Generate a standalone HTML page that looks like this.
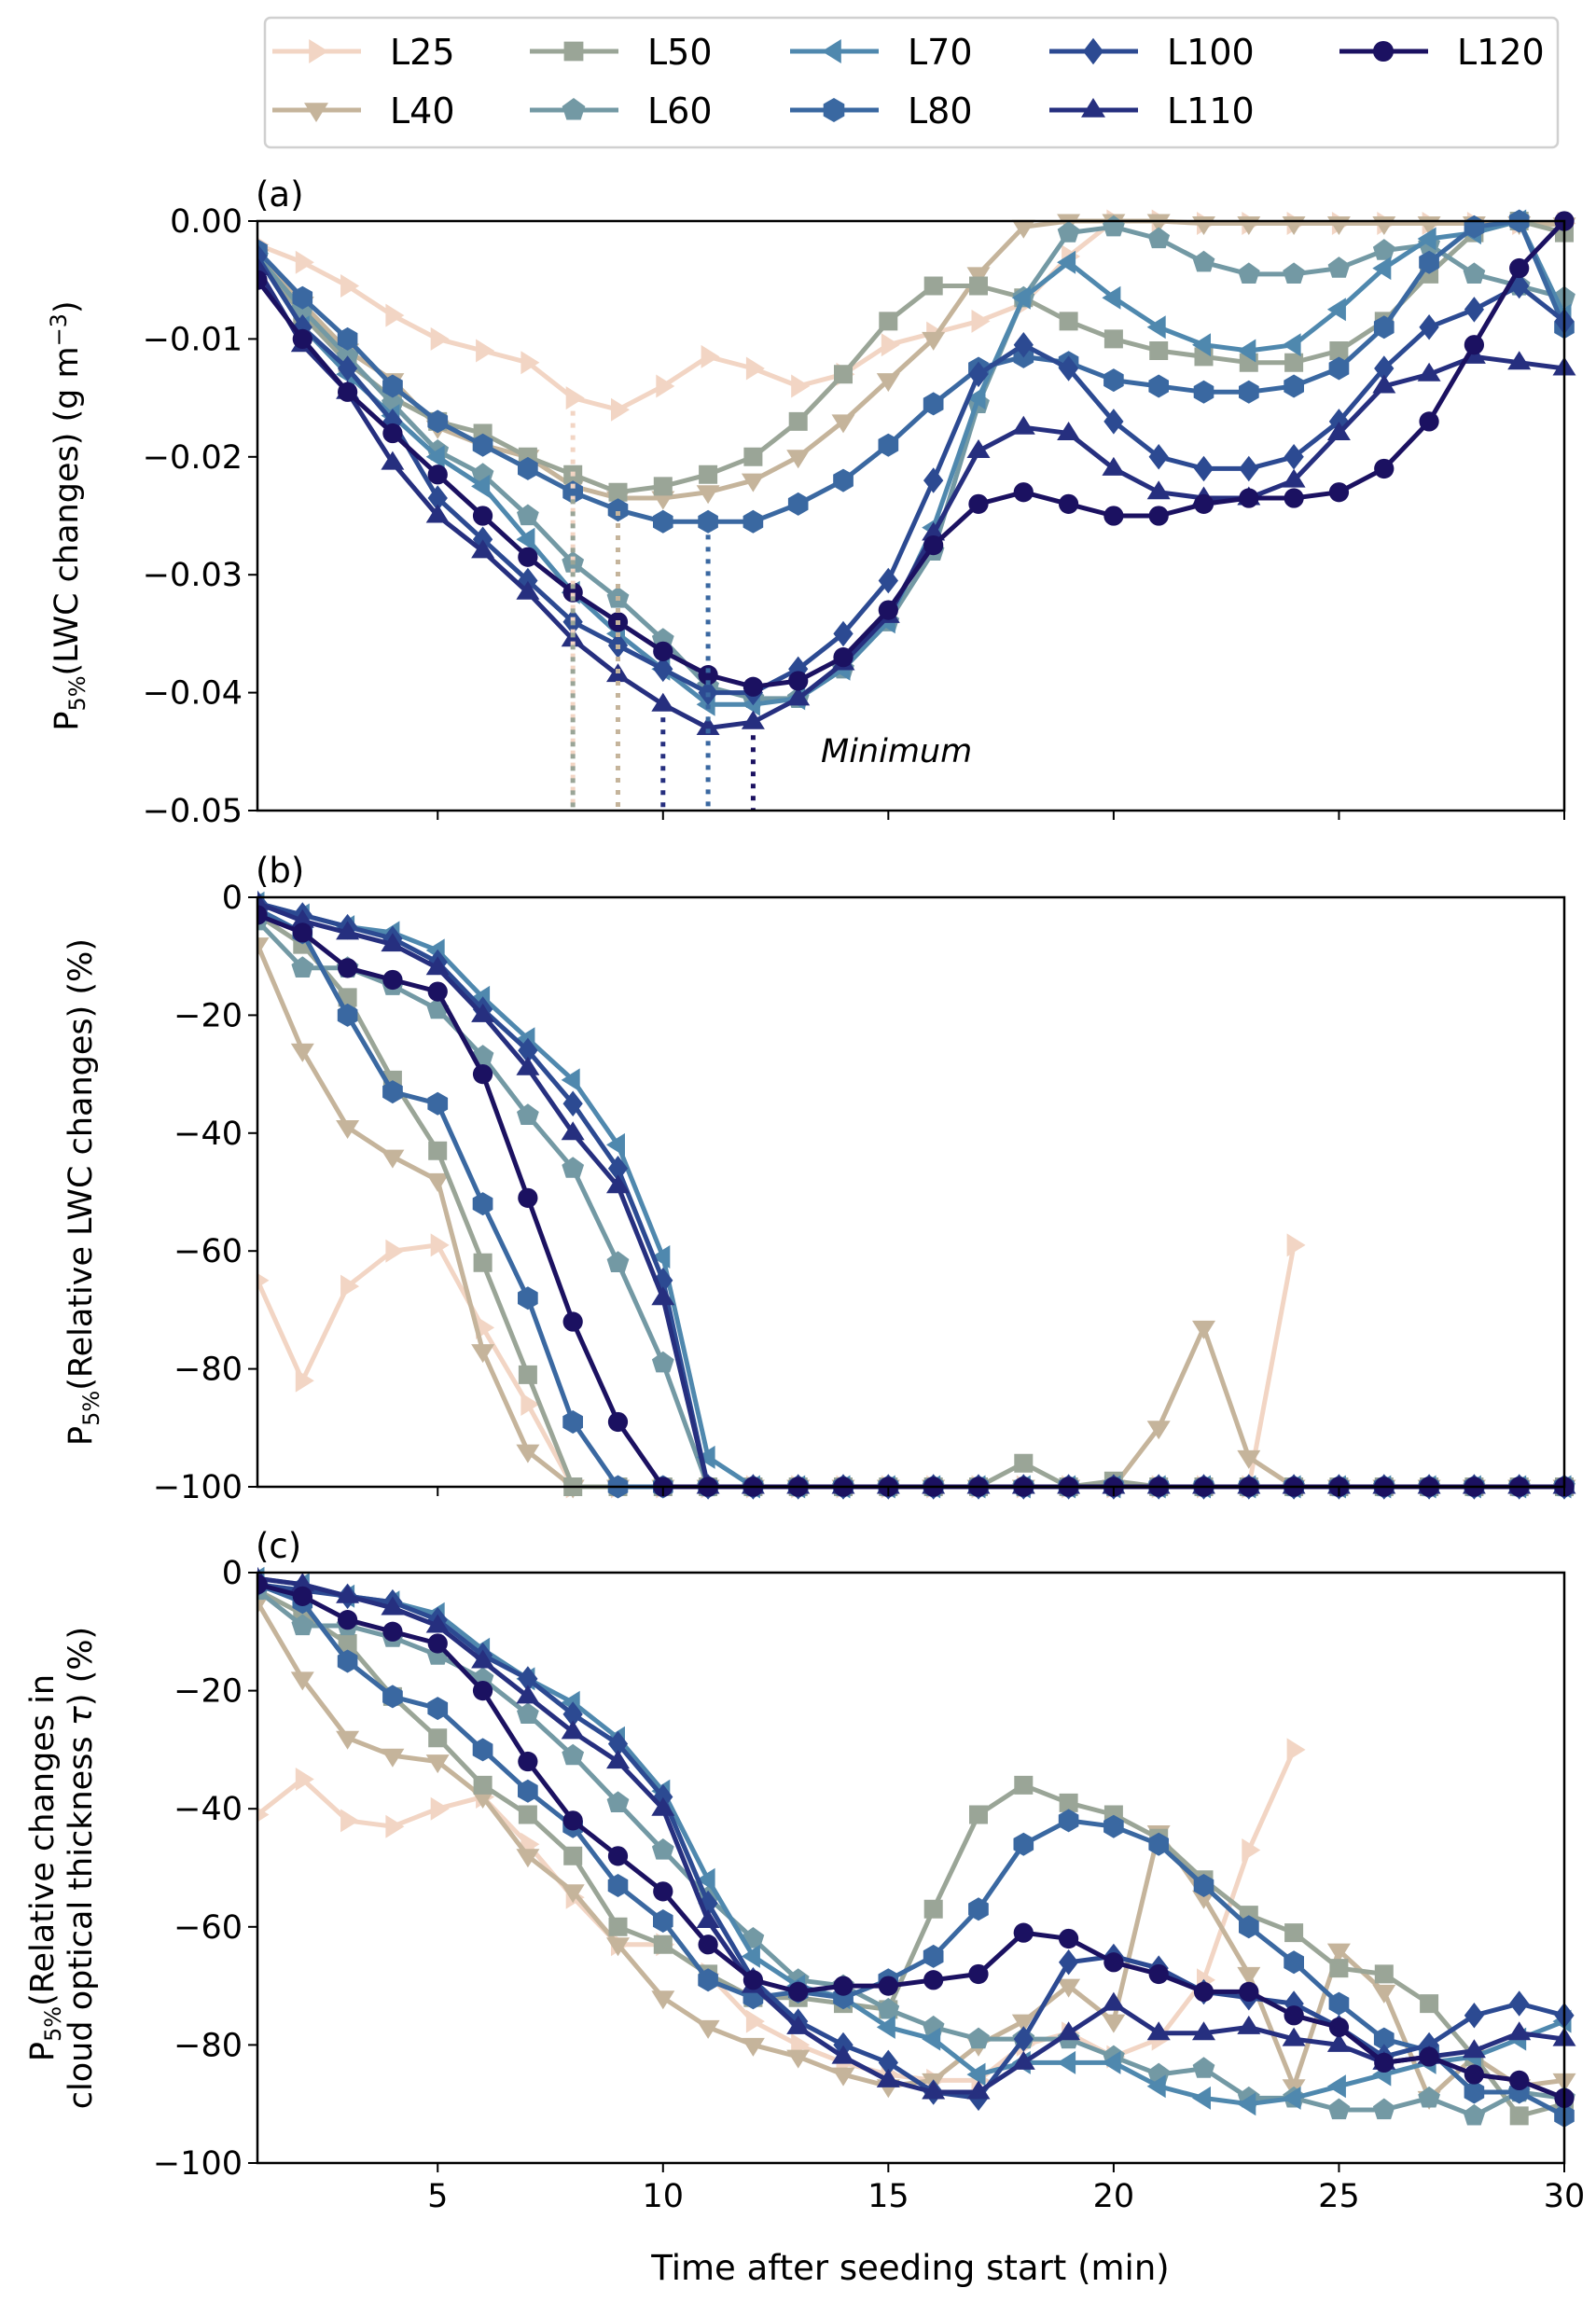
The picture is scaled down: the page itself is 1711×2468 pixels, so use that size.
<!DOCTYPE html>
<html><head><meta charset="utf-8"><style>
html,body{margin:0;padding:0;background:#fff}
svg text{font-family:"DejaVu Sans","Liberation Sans",sans-serif;fill:#000}
</style></head><body>
<svg id="fig" width="1711" height="2463" viewBox="0 0 1711 2463" xmlns="http://www.w3.org/2000/svg"></svg>
<script>
const times = Array.from({length:30},(_,i)=>i+1);
const seriesNames = ["L25","L40","L50","L60","L70","L80","L100","L110","L120"];
const seriesColors = ["#f2d5c4","#c5b49b","#9aa597","#7399a4","#4f88ae","#3a68a1","#2c4a92","#262f7f","#1b1161"];
const seriesMarkers = [">","v","s","p","<","h","D","^","o"];
const N = null;
// Panel (a) values: P5%(LWC changes) g m^-3
const a_L25 = [-0.002,-0.0035,-0.0055,-0.008,-0.010,-0.011,-0.012,-0.015,-0.016,-0.014,-0.0115,-0.0125,-0.014,-0.013,-0.0105,-0.0095,-0.0085,-0.007,-0.003,0,0,-0.0002,-0.0002,-0.0002,-0.0002,-0.0002,-0.0002,-0.0002,-0.0002,-0.0002];
const a_L40 = [-0.003,-0.007,-0.011,-0.0135,-0.0175,-0.019,-0.020,-0.0225,-0.0235,-0.0235,-0.023,-0.022,-0.020,-0.017,-0.0135,-0.010,-0.0045,-0.0005,0,0,0,-0.0002,-0.0002,-0.0002,-0.0002,-0.0002,-0.0002,-0.0002,-0.0002,-0.0003];
const a_L50 = [-0.003,-0.008,-0.012,-0.015,-0.017,-0.018,-0.020,-0.0215,-0.023,-0.0225,-0.0215,-0.020,-0.017,-0.013,-0.0085,-0.0055,-0.0055,-0.0065,-0.0085,-0.010,-0.011,-0.0115,-0.012,-0.012,-0.011,-0.0085,-0.0045,-0.001,0,-0.001];
const a_L60 = [-0.003,-0.0075,-0.0115,-0.0155,-0.0195,-0.0215,-0.025,-0.029,-0.032,-0.0355,-0.0395,-0.0405,-0.0405,-0.038,-0.034,-0.028,-0.0155,-0.0065,-0.001,-0.0005,-0.0015,-0.0035,-0.0045,-0.0045,-0.004,-0.0025,-0.002,-0.0045,-0.0055,-0.0065];
const a_L70 = [-0.003,-0.009,-0.013,-0.0165,-0.020,-0.0225,-0.027,-0.0315,-0.035,-0.038,-0.041,-0.041,-0.0405,-0.038,-0.034,-0.026,-0.015,-0.0065,-0.0035,-0.0065,-0.009,-0.0105,-0.011,-0.0105,-0.0075,-0.004,-0.0015,-0.001,0,-0.008];
const a_L80 = [-0.0025,-0.0065,-0.010,-0.014,-0.017,-0.019,-0.021,-0.023,-0.0245,-0.0255,-0.0255,-0.0255,-0.024,-0.022,-0.019,-0.0155,-0.0125,-0.0115,-0.012,-0.0135,-0.014,-0.0145,-0.0145,-0.014,-0.0125,-0.009,-0.0035,-0.0005,0,-0.009];
const a_L100 = [-0.003,-0.009,-0.0125,-0.017,-0.0235,-0.027,-0.0305,-0.034,-0.036,-0.038,-0.040,-0.040,-0.038,-0.035,-0.0305,-0.022,-0.013,-0.0105,-0.0125,-0.017,-0.020,-0.021,-0.021,-0.020,-0.017,-0.0125,-0.009,-0.0075,-0.0055,-0.0085];
const a_L110 = [-0.004,-0.0105,-0.0145,-0.0205,-0.025,-0.028,-0.0315,-0.0355,-0.0385,-0.041,-0.043,-0.0425,-0.0405,-0.0375,-0.0335,-0.0265,-0.0195,-0.0175,-0.018,-0.021,-0.023,-0.0235,-0.0235,-0.022,-0.018,-0.014,-0.013,-0.0115,-0.012,-0.0125];
const a_L120 = [-0.005,-0.010,-0.0145,-0.018,-0.0215,-0.025,-0.0285,-0.0315,-0.034,-0.0365,-0.0385,-0.0395,-0.039,-0.037,-0.033,-0.0275,-0.024,-0.023,-0.024,-0.025,-0.025,-0.024,-0.0235,-0.0235,-0.023,-0.021,-0.017,-0.0105,-0.004,0];
// Panel (b) values: relative LWC changes %
const b_L25 = [-65,-82,-66,-60,-59,-73,-86,-100,-100,-100,-100,-100,-100,-100,-100,-100,-100,-100,-100,-100,-100,-100,-100,-59,N,N,N,N,N,N];
const b_L40 = [-8,-26,-39,-44,-48,-77,-94,-100,-100,-100,-100,-100,-100,-100,-100,-100,-100,-100,-100,-100,-90,-73,-95,-100,-100,-100,-100,-100,-100,-100];
const b_L50 = [-3,-8,-17,-31,-43,-62,-81,-100,-100,-100,-100,-100,-100,-100,-100,-100,-100,-96,-100,-99,-100,-100,-100,-100,-100,-100,-100,-100,-100,-100];
const b_L60 = [-4,-12,-12,-15,-19,-27,-37,-46,-62,-79,-100,-100,-100,-100,-100,-100,-100,-100,-100,-100,-100,-100,-100,-100,-100,-100,-100,-100,-100,-100];
const b_L70 = [-1,-3,-5,-6,-9,-17,-24,-31,-42,-61,-95,-100,-100,-100,-100,-100,-100,-100,-100,-100,-100,-100,-100,-100,-100,-100,-100,-100,-100,-100];
const b_L80 = [-2,-6,-20,-33,-35,-52,-68,-89,-100,-100,-100,-100,-100,-100,-100,-100,-100,-100,-100,-100,-100,-100,-100,-100,-100,-100,-100,-100,-100,-100];
const b_L100 = [-1,-3,-5,-7,-11,-19,-26,-35,-46,-65,-100,-100,-100,-100,-100,-100,-100,-100,-100,-100,-100,-100,-100,-100,-100,-100,-100,-100,-100,-100];
const b_L110 = [-1,-4,-6,-8,-12,-20,-29,-40,-49,-68,-100,-100,-100,-100,-100,-100,-100,-100,-100,-100,-100,-100,-100,-100,-100,-100,-100,-100,-100,-100];
const b_L120 = [-3,-6,-12,-14,-16,-30,-51,-72,-89,-100,-100,-100,-100,-100,-100,-100,-100,-100,-100,-100,-100,-100,-100,-100,-100,-100,-100,-100,-100,-100];
// Panel (c) values: relative changes in cloud optical thickness %
const c_L25 = [-41,-35,-42,-43,-40,-38,-46,-55,-63,-63,-68,-76,-80,-83,-85,-86,-86,-80,-78,-82,-79,-69,-47,-30,N,N,N,N,N,N];
const c_L40 = [-5,-18,-28,-31,-32,-38,-48,-54,-63,-72,-77,-80,-82,-85,-87,-86,-80,-76,-70,-76,-44,-55,-68,-87,-64,-71,-89,-82,-87,-86];
const c_L50 = [-3,-7,-12,-21,-28,-36,-41,-48,-60,-63,-68,-72,-72,-73,-74,-57,-41,-36,-39,-41,-45,-52,-58,-61,-67,-68,-73,-82,-92,-90];
const c_L60 = [-3,-9,-9,-11,-14,-18,-24,-31,-39,-47,-55,-62,-69,-70,-74,-77,-79,-79,-79,-82,-85,-84,-89,-89,-91,-91,-89,-92,-88,-89];
const c_L70 = [-1,-2,-4,-5,-7,-13,-18,-22,-28,-37,-52,-65,-70,-72,-77,-79,-85,-83,-83,-83,-87,-89,-90,-89,-87,-85,-83,-82,-79,-76];
const c_L80 = [-2,-5,-15,-21,-23,-30,-37,-43,-53,-59,-69,-72,-71,-72,-69,-65,-57,-46,-42,-43,-46,-53,-60,-66,-73,-79,-81,-88,-88,-92];
const c_L100 = [-2,-3,-4,-5,-8,-14,-18,-24,-29,-38,-56,-69,-76,-80,-83,-88,-89,-79,-66,-65,-67,-71,-72,-73,-77,-82,-80,-75,-73,-75];
const c_L110 = [-1,-2,-4,-6,-9,-15,-21,-27,-32,-40,-59,-70,-77,-82,-86,-88,-88,-83,-78,-73,-78,-78,-77,-79,-80,-83,-82,-81,-78,-79];
const c_L120 = [-2,-4,-8,-10,-12,-20,-32,-42,-48,-54,-63,-69,-71,-70,-70,-69,-68,-61,-62,-66,-68,-71,-71,-75,-77,-83,-82,-85,-86,-89];
const aTicks = [0,-0.01,-0.02,-0.03,-0.04,-0.05];
const aTickLabels = ["0.00","\u22120.01","\u22120.02","\u22120.03","\u22120.04","\u22120.05"];
const bcTicks = [0,-20,-40,-60,-80,-100];
const bcTickLabels = ["0","\u221220","\u221240","\u221260","\u221280","\u2212100"];
const xTicks = [5,10,15,20,25,30];
// minimum markers (series index, time, value)
const minSeries = [0,2,1,7,5,8];
const minTimes = [8,8,9,10,11,12];
const minValues = [-0.015,-0.0225,-0.0235,-0.041,-0.0255,-0.0425];

const svg = document.getElementById('fig');
const NS = "http://www.w3.org/2000/svg";
function mk(tag, attrs, parent){const e=document.createElementNS(NS,tag);for(const k in attrs)e.setAttribute(k,attrs[k]);(parent||svg).appendChild(e);return e;}
const XL=276, XR=1677;
function xs(t){return XL+(t-1)/(30-1)*(XR-XL);}
function makeY(top,bot,ymax,ymin){return v=>top+(ymax-v)/(ymax-ymin)*(bot-top);}

function markerPath(m,x,y,r){
  const pts=(arr)=>arr.map(p=>(x+p[0]).toFixed(1)+','+(y+p[1]).toFixed(1)).join(' ');
  switch(m){
    case '>': return ['polygon',{points:pts([[r,0],[-r*0.6,-r],[-r*0.6,r]])}];
    case '<': return ['polygon',{points:pts([[-r,0],[r*0.6,-r],[r*0.6,r]])}];
    case 'v': return ['polygon',{points:pts([[0,r],[-r,-r*0.6],[r,-r*0.6]])}];
    case '^': return ['polygon',{points:pts([[0,-r],[-r,r*0.6],[r,r*0.6]])}];
    case 's': return ['polygon',{points:pts([[-r*0.8,-r*0.8],[r*0.8,-r*0.8],[r*0.8,r*0.8],[-r*0.8,r*0.8]])}];
    case 'D': return ['polygon',{points:pts([[0,-r*1.1],[r*0.85,0],[0,r*1.1],[-r*0.85,0]])}];
    case 'p': {const a=[];for(let i=0;i<5;i++){const t=-Math.PI/2+i*2*Math.PI/5;a.push([r*Math.cos(t),r*Math.sin(t)]);}return ['polygon',{points:pts(a)}];}
    case 'h': {const a=[];for(let i=0;i<6;i++){const t=-Math.PI/2+i*Math.PI/3;a.push([r*Math.cos(t),r*Math.sin(t)]);}return ['polygon',{points:pts(a)}];}
    default: return ['circle',{cx:x,cy:y,r:r*0.85}];
  }
}

function panel(id,top,bot,ymax,ymin,data,ticks,tickLabels,showX,title){
  const g=mk('g',{});
  
  
  const ys=makeY(top,bot,ymax,ymin);
  const clip=mk('clipPath',{id:'clip'+id},g);
  mk('rect',{x:XL,y:top-14,width:XR-XL+14,height:bot-top+28},clip);
  const plot=mk('g',{'clip-path':'url(#clip'+id+')'},g);
  data.forEach((vals,si)=>{
    const sg=mk('g',{},plot);
    
    
    let d='',pen=false;
    vals.forEach((v,i)=>{ if(v===null){pen=false;return;} d+=(pen?'L':'M')+xs(times[i]).toFixed(1)+','+ys(v).toFixed(1); pen=true;});
    mk('path',{d:d,fill:'none',stroke:seriesColors[si],'stroke-width':5,'stroke-linejoin':'round'},sg);
    vals.forEach((v,i)=>{ if(v===null)return; const [tag,at]=markerPath(seriesMarkers[si],xs(times[i]),ys(v),12.5); at.fill=seriesColors[si]; const mEl=mk(tag,at,sg);
      
      
    });
  });
  if(id==='a'){
    minSeries.forEach((si,k)=>{
      const ln=mk('line',{x1:xs(minTimes[k]),x2:xs(minTimes[k]),y1:ys(minValues[k])+14,y2:bot,stroke:seriesColors[si],'stroke-width':5,'stroke-dasharray':'5,8'},g);
      
      
    });
    const mt=mk('text',{x:880,y:817,'font-size':35,'font-style':'italic'},g);
    mt.textContent='Minimum';
    
    
  }
  const fr=mk('rect',{x:XL,y:top,width:XR-XL,height:bot-top,fill:'none',stroke:'#000','stroke-width':2.5},g);
  
  
  ticks.forEach((t,i)=>{
    const y=ys(t);
    mk('line',{x1:XL-10,x2:XL,y1:y,y2:y,stroke:'#000','stroke-width':2},g);
    const tx=mk('text',{x:XL-16,y:y+12,'font-size':35,'text-anchor':'end'},g);
    tx.textContent=tickLabels[i];
    
    
  });
  xTicks.forEach(t=>{
    const x=xs(t);
    mk('line',{x1:x,x2:x,y1:bot,y2:bot+10,stroke:'#000','stroke-width':2},g);
    if(showX){const tx=mk('text',{x:x,y:bot+47,'font-size':35,'text-anchor':'middle'},g);tx.textContent=t;
      
      }
  });
  const pt=mk('text',{x:274,y:top-16,'font-size':37},g);
  pt.textContent='('+id+')';
  
  
  title.forEach((ln,i)=>{
    const yc=(top+bot)/2; const xc=ln.x;
    const tx=mk('text',{x:xc,y:yc,'font-size':35,'text-anchor':'middle',transform:'rotate(-90 '+xc+' '+yc+')'},g);
    tx.innerHTML=ln.html;
    
    
  });
}
const P='P<tspan font-size="24" dy="8">5%</tspan><tspan dy="-8">';
panel('a',237,869,0,-0.05,[a_L25,a_L40,a_L50,a_L60,a_L70,a_L80,a_L100,a_L110,a_L120],aTicks,aTickLabels,false,[{x:83,html:P+'(LWC changes) (g m</tspan><tspan font-size="24" dy="-12">\u22123</tspan><tspan dy="12">)</tspan>'}]);
panel('b',962,1594,0,-100,[b_L25,b_L40,b_L50,b_L60,b_L70,b_L80,b_L100,b_L110,b_L120],bcTicks,bcTickLabels,false,[{x:98,html:P+'(Relative LWC changes) (%)</tspan>'}]);
panel('c',1686,2319,0,-100,[c_L25,c_L40,c_L50,c_L60,c_L70,c_L80,c_L100,c_L110,c_L120],bcTicks,bcTickLabels,true,[{x:57,html:P+'(Relative changes in</tspan>'},{x:98,html:'cloud optical thickness <tspan font-style="italic">\u03c4</tspan>) (%)'}]);

const xl=mk('text',{x:976,y:2444,'font-size':37,'text-anchor':'middle'});
xl.textContent='Time after seeding start (min)';



// legend
const lg=mk('g',{});


mk('rect',{x:284,y:19,width:1386,height:139,rx:6,fill:'#fff',stroke:'#d0d0d0','stroke-width':2.5},lg);
const colX=[292,568,847,1125,1436];
const rowY=[55,118];
seriesNames.forEach((nm,i)=>{
  const col=Math.floor(i/2), row=i%2;
  const x=colX[col], y=rowY[row];
  const eg=mk('g',{},lg);
  
  
  mk('line',{x1:x,x2:x+95,y1:y,y2:y,stroke:seriesColors[i],'stroke-width':5},eg);
  const [tag,at]=markerPath(seriesMarkers[i],x+47,y,13); at.fill=seriesColors[i]; mk(tag,at,eg);
  const t=mk('text',{x:x+126,y:y+14,'font-size':38},eg); t.textContent=nm;
});
</script>
</body></html>
